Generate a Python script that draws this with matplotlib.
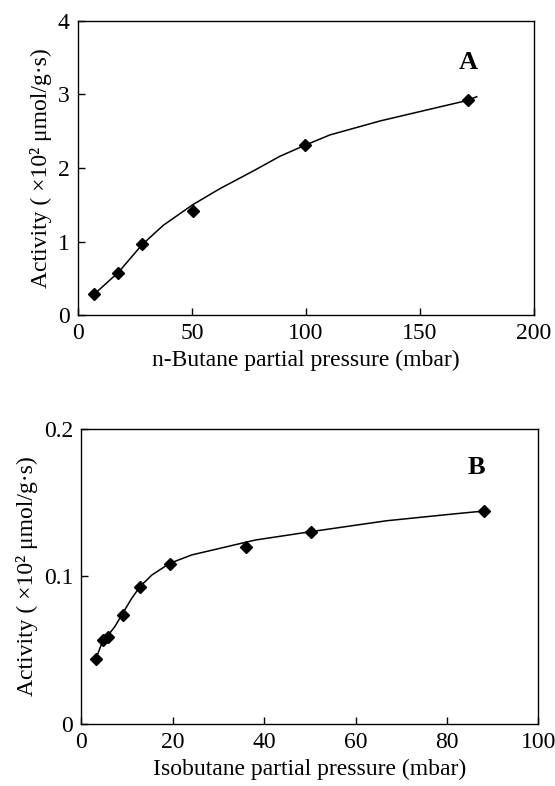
import numpy as np
import matplotlib.pyplot as plt

plt.rcParams['font.family'] = ['Liberation Serif', 'DejaVu Serif']
plt.rcParams['font.size'] = 17

# panel A: n-butane
a_x = [7.0, 17.7, 28.2, 50.3, 99.6, 170.9]
a_y = [0.28, 0.57, 0.96, 1.42, 2.31, 2.92]
a_curve_x = [7.0, 17.7, 28.2, 37.4, 50.3, 62.3, 76.9, 88.6, 99.6, 110.5, 132.5, 154.4, 170.9, 174.9]
a_curve_y = [0.28, 0.58, 0.96, 1.22, 1.50, 1.72, 1.96, 2.16, 2.31, 2.45, 2.64, 2.80, 2.92, 2.97]

# panel B: isobutane
b_x = [3.1, 4.8, 5.9, 9.0, 12.8, 19.3, 36.1, 50.2, 88.1]
b_y = [0.0438, 0.057, 0.0592, 0.0739, 0.0927, 0.1085, 0.1202, 0.1304, 0.1444]
b_curve_x = [3.1, 4.8, 5.9, 7.3, 9.0, 11.0, 12.8, 15.4, 19.3, 24.1, 30.3, 38.0, 50.2, 66.8, 81.4, 88.1]
b_curve_y = [0.0438, 0.0575, 0.0605, 0.066, 0.0749, 0.0852, 0.0931, 0.101, 0.1089, 0.1146,
             0.1191, 0.1247, 0.1304, 0.1378, 0.1424, 0.1444]

ylabel = 'Activity ( ×10² μmol/g·s)'

fig = plt.figure(figsize=(5.55, 7.86), dpi=100)
axA = fig.add_axes([0.1405, 0.5992, 0.8216, 0.3741])
axB = fig.add_axes([0.1468, 0.0789, 0.8234, 0.3753])

for ax in (axA, axB):
    ax.tick_params(direction='in', length=5, width=1, labelsize=17, pad=6)
    for s in ax.spines.values():
        s.set_linewidth(1)

axA.plot(a_curve_x, a_curve_y, color='black', lw=1.1)
axA.plot(a_x, a_y, 'D', color='black', ms=6.5)
axA.set_xlim(0, 200)
axA.set_ylim(0, 4)
axA.set_xticks([0, 50, 100, 150, 200])
axA.set_yticks([0, 1, 2, 3, 4])
axA.set_xlabel('n-Butane partial pressure (mbar)', fontsize=17)
axA.set_ylabel(ylabel, fontsize=17)
axA.text(171, 3.44, 'A', fontsize=19, fontweight='bold', ha='center', va='center')

axB.plot(b_curve_x, b_curve_y, color='black', lw=1.1)
axB.plot(b_x, b_y, 'D', color='black', ms=6.5)
axB.set_xlim(0, 100)
axB.set_ylim(0, 0.2)
axB.set_xticks([0, 20, 40, 60, 80, 100])
axB.set_yticks([0, 0.1, 0.2])
axB.set_yticklabels(['0', '0.1', '0.2'])
axB.set_xlabel('Isobutane partial pressure (mbar)', fontsize=17)
axB.set_ylabel(ylabel, fontsize=17)
axB.text(86.4, 0.174, 'B', fontsize=19, fontweight='bold', ha='center', va='center')

fig.savefig('out.png', dpi=100)
